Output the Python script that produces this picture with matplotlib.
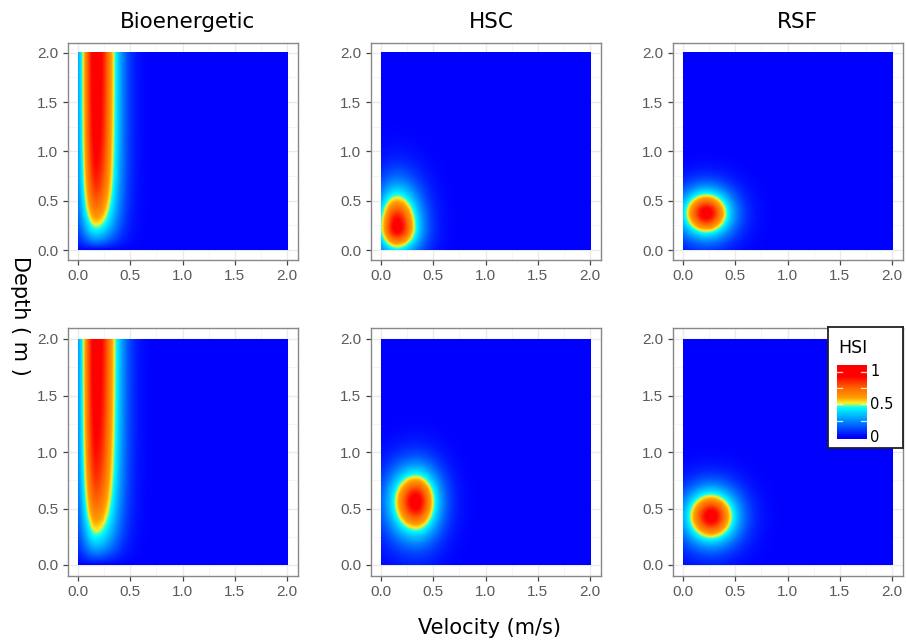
import numpy as np
import matplotlib
matplotlib.use("Agg")
import matplotlib.pyplot as plt
from matplotlib.colors import LinearSegmentedColormap

W, H = 906, 641

titles = ["Bioenergetic", "HSC", "RSF"]
title_x = [188, 491, 797]

# bioenergetic panels (top, bottom): velocity bump x saturating depth response
bio_vel_center = [0.17, 0.17]
bio_vel_spread_lo = [0.155, 0.15]
bio_vel_spread_hi = [0.21, 0.22]
bio_depth_scale = [0.35, 0.42]
bio_power = 1.9

# HSC / RSF panels, order: HSC top, RSF top, HSC bottom, RSF bottom
blob_vel_center = [0.15, 0.22, 0.33, 0.265]
blob_vel_spread_lo = [0.18, 0.23, 0.24, 0.24]
blob_vel_spread_hi = [0.21, 0.23, 0.21, 0.24]
blob_dep_center = [0.23, 0.37, 0.56, 0.43]
blob_dep_spread_lo = [0.25, 0.23, 0.30, 0.23]
blob_dep_spread_hi = [0.38, 0.23, 0.28, 0.23]
blob_power = 1.7

ticks = [0.0, 0.5, 1.0, 1.5, 2.0]
tick_labels = ["0.0", "0.5", "1.0", "1.5", "2.0"]
cbar_ticks = [0, 0.5, 1]
cbar_labels = ["0", "0.5", "1"]

hsi_cmap = LinearSegmentedColormap.from_list("hsi", [
    (0.0, "#0000FF"), (0.45, "#00FFFF"), (0.52, "#FFF020"),
    (0.60, "#FFA000"), (0.76, "#FF6000"), (0.93, "#FF0000"), (1.0, "#FF0000")])


def scaled(x, c, s_lo, s_hi):
    dx = x - c
    return np.where(dx < 0, dx / s_lo, dx / s_hi)


v = np.linspace(0, 2, 400)
d = np.linspace(0, 2, 400)
V, D = np.meshgrid(v, d)

surfaces = [[None] * 3 for _ in range(2)]
for r in range(2):
    tv = scaled(V, bio_vel_center[r], bio_vel_spread_lo[r], bio_vel_spread_hi[r])
    surfaces[r][0] = np.exp(-np.abs(tv) ** bio_power) * \
        (1 - np.exp(-D / bio_depth_scale[r]))
    for c in range(2):
        i = r * 2 + c
        tv = scaled(V, blob_vel_center[i], blob_vel_spread_lo[i], blob_vel_spread_hi[i])
        td = scaled(D, blob_dep_center[i], blob_dep_spread_lo[i], blob_dep_spread_hi[i])
        surfaces[r][c + 1] = np.exp(-np.sqrt(tv ** 2 + td ** 2) ** blob_power)

fig = plt.figure(figsize=(W / 100, H / 100), dpi=100)


def px_axes(x0, y0, x1, y1):
    return fig.add_axes([x0 / W, 1 - y1 / H, (x1 - x0) / W, (y1 - y0) / H])


col_px = [(67.5, 297.5), (370.5, 600.5), (672.5, 902.5)]
row_px = [(42.8, 259.9), (327.7, 576.3)]

for r in range(2):
    for c in range(3):
        ax = px_axes(col_px[c][0], row_px[r][0], col_px[c][1], row_px[r][1])
        ax.imshow(surfaces[r][c], origin="lower", extent=(0, 2, 0, 2),
                  cmap=hsi_cmap, vmin=0, vmax=1, aspect="auto",
                  interpolation="bilinear", zorder=1)
        ax.set_xlim(-0.1, 2.1)
        ax.set_ylim(-0.1, 2.1)
        ax.set_xticks(ticks)
        ax.set_xticklabels(tick_labels, family="Liberation Sans")
        ax.set_yticks(ticks)
        ax.set_yticklabels(tick_labels, family="Liberation Sans")
        ax.set_xticks(np.arange(0.25, 2.0, 0.5), minor=True)
        ax.set_yticks(np.arange(0.25, 2.0, 0.5), minor=True)
        ax.grid(which="major", color="#EBEBEB", lw=1.0)
        ax.grid(which="minor", color="#F4F4F4", lw=0.6)
        ax.set_axisbelow(True)
        ax.tick_params(which="major", direction="out", length=3.5, width=0.9,
                       color="#444444", labelcolor="#5A5A5A", labelsize=11, pad=3)
        ax.tick_params(which="minor", length=0)
        for s in ax.spines.values():
            s.set_color("#888888")
            s.set_linewidth(1.0)

for t, x in zip(titles, title_x):
    fig.text(x / W, 1 - 22 / H, t, ha="center", va="center", fontsize=15.5,
             family="DejaVu Sans")

fig.text(489 / W, 1 - 628 / H, "Velocity (m/s)", ha="center", va="center",
         fontsize=15, family="DejaVu Sans")
fig.text(20 / W, 1 - 316 / H, "Depth ( m )", ha="center", va="center",
         fontsize=15, rotation=-90, family="DejaVu Sans")

# legend box
lax = px_axes(827.5, 327.3, 902.7, 448.3)
lax.set_xticks([])
lax.set_yticks([])
lax.set_facecolor("white")
for s in lax.spines.values():
    s.set_color("#222222")
    s.set_linewidth(1.3)
lax.set_zorder(5)
fig.text(838 / W, 1 - 348 / H, "HSI", ha="left", va="center", fontsize=12.5,
         family="DejaVu Sans", zorder=7)

cax = px_axes(836.7, 365, 866.7, 439)
cax.set_zorder(6)
lo, hi = -0.03, 1.1
grad = np.linspace(lo, hi, 200).reshape(-1, 1)
cax.imshow(grad, origin="lower", extent=(0, 1, lo, hi), cmap=hsi_cmap,
           vmin=0, vmax=1, aspect="auto")
cax.set_xlim(0, 1)
cax.set_ylim(lo, hi)
for yv in [0.25, 0.5, 0.75, 1.0]:
    cax.plot([0, 0.18], [yv, yv], color="white", lw=0.9, alpha=0.8)
    cax.plot([0.82, 1], [yv, yv], color="white", lw=0.9, alpha=0.8)
cax.axis("off")
for tv, tl in zip(cbar_ticks, cbar_labels):
    ypx = 437.3 - tv * 65.6
    fig.text(870 / W, 1 - ypx / H, tl, ha="left", va="center", fontsize=10.5,
             family="DejaVu Sans", zorder=7)

fig.savefig("out.png", dpi=100)
